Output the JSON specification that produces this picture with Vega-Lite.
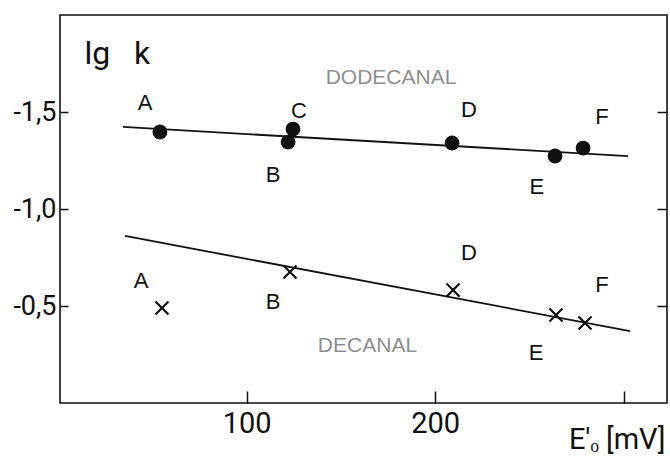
{
  "$schema": "https://vega.github.io/schema/vega-lite/v6.json",
  "width": 607,
  "height": 388,
  "autosize": {"type": "none"},
  "padding": {"left": 60, "top": 15, "right": 3, "bottom": 58},
  "background": "white",
  "config": {
    "view": {"stroke": "#111", "strokeWidth": 1.6},
    "axis": {"grid": false, "domain": false, "labelColor": "#111", "titleColor": "#111", "tickColor": "#111", "tickWidth": 1.5, "titleFontWeight": "normal", "labelFont": "Roboto", "titleFont": "Roboto"}
  },
  "datasets": {
    "points": [
      {"series": "DODECANAL", "sample": "A", "E": 54.0, "lgk": -1.397},
      {"series": "DODECANAL", "sample": "B", "E": 122.0, "lgk": -1.345},
      {"series": "DODECANAL", "sample": "C", "E": 124.6, "lgk": -1.412},
      {"series": "DODECANAL", "sample": "D", "E": 209.0, "lgk": -1.340},
      {"series": "DODECANAL", "sample": "E", "E": 263.6, "lgk": -1.273},
      {"series": "DODECANAL", "sample": "F", "E": 278.5, "lgk": -1.314},
      {"series": "DECANAL", "sample": "A", "E": 55.1, "lgk": -0.490},
      {"series": "DECANAL", "sample": "B", "E": 123.0, "lgk": -0.675},
      {"series": "DECANAL", "sample": "D", "E": 209.5, "lgk": -0.582},
      {"series": "DECANAL", "sample": "E", "E": 264.1, "lgk": -0.454},
      {"series": "DECANAL", "sample": "F", "E": 279.5, "lgk": -0.412}
    ],
    "fit": [
      {"series": "DODECANAL", "E": 34.4, "lgk": -1.423},
      {"series": "DODECANAL", "E": 302.3, "lgk": -1.273},
      {"series": "DECANAL", "E": 35.5, "lgk": -0.861},
      {"series": "DECANAL", "E": 303.4, "lgk": -0.371}
    ],
    "letters": [
      {"label": "A", "E": 46.1, "lgk": -1.546},
      {"label": "B", "E": 114.0, "lgk": -1.175},
      {"label": "C", "E": 127.8, "lgk": -1.505},
      {"label": "D", "E": 217.9, "lgk": -1.510},
      {"label": "E", "E": 254.0, "lgk": -1.113},
      {"label": "F", "E": 288.5, "lgk": -1.474},
      {"label": "A", "E": 44.0, "lgk": -0.629},
      {"label": "B", "E": 114.0, "lgk": -0.521},
      {"label": "D", "E": 217.9, "lgk": -0.773},
      {"label": "E", "E": 253.5, "lgk": -0.258},
      {"label": "F", "E": 288.5, "lgk": -0.608}
    ],
    "names": [
      {"name": "DODECANAL", "E": 176.6, "lgk": -1.673},
      {"name": "DECANAL", "E": 164.1, "lgk": -0.294}
    ]
  },
  "encoding": {
    "x": {
      "field": "E", "type": "quantitative",
      "scale": {"domain": [1, 323], "nice": false, "zero": false},
      "axis": {
        "values": [100, 200, 300], "tickSize": -12, "labelPadding": 18,
        "labelFontSize": 29, "labelBaseline": "top",
        "labelExpr": "datum.value == 300 ? '' : datum.label",
        "title": "E'ₒ [mV]", "titleFontSize": 29, "titleAnchor": "end", "titleAlign": "right",
        "titleBaseline": "alphabetic", "titleX": 605, "titleY": 45
      }
    },
    "y": {
      "field": "lgk", "type": "quantitative",
      "scale": {"domain": [-2, 0], "reverse": true, "nice": false, "zero": false},
      "axis": null
    }
  },
  "layer": [
    {
      "data": {"name": "fit"},
      "mark": {"type": "line", "color": "#111", "strokeWidth": 1.8},
      "encoding": {
        "detail": {"field": "series"},
        "y": {
          "field": "lgk", "type": "quantitative",
          "scale": {"domain": [-2, 0], "reverse": true, "nice": false, "zero": false},
          "axis": {
            "orient": "left", "values": [-1.5, -1, -0.5], "tickSize": -8, "labelPadding": 12,
            "labelFontSize": 27, "labelBaseline": "middle",
            "labelExpr": "datum.value == -1.5 ? '-1,5' : (datum.value == -1 ? '-1,0' : '-0,5')",
            "title": "lg\u00a0\u00a0\u00a0k", "titleFontSize": 32, "titleAngle": 0, "titleAlign": "left",
            "titleBaseline": "alphabetic", "titleX": 24, "titleY": 48
          }
        }
      }
    },
    {
      "data": {"name": "points"},
      "transform": [{"filter": "datum.series == 'DODECANAL'"}],
      "mark": {"type": "point", "shape": "circle", "filled": true, "color": "#111", "size": 220, "opacity": 1}
    },
    {
      "data": {"name": "points"},
      "transform": [{"filter": "datum.series == 'DECANAL'"}],
      "mark": {"type": "point", "shape": "M-1,-1L1,1M-1,1L1,-1", "filled": false, "color": "#111", "strokeWidth": 2.2, "size": 170, "opacity": 1}
    },
    {
      "data": {"name": "letters"},
      "mark": {"type": "text", "font": "Liberation Sans", "fontSize": 22, "color": "#111", "align": "center", "baseline": "middle"},
      "encoding": {
        "text": {"field": "label"},
        "y": {
          "field": "lgk", "type": "quantitative",
          "scale": {"domain": [-2, 0], "reverse": true, "nice": false, "zero": false},
          "axis": {"orient": "right", "values": [-1.5, -1, -0.5], "tickSize": -10, "labels": false, "title": null}
        }
      }
    },
    {
      "data": {"name": "names"},
      "mark": {"type": "text", "font": "Liberation Sans", "fontSize": 21, "color": "#8f8f8f", "align": "center", "baseline": "middle"},
      "encoding": {"text": {"field": "name"}}
    }
  ],
  "resolve": {"axis": {"y": "independent"}}
}
